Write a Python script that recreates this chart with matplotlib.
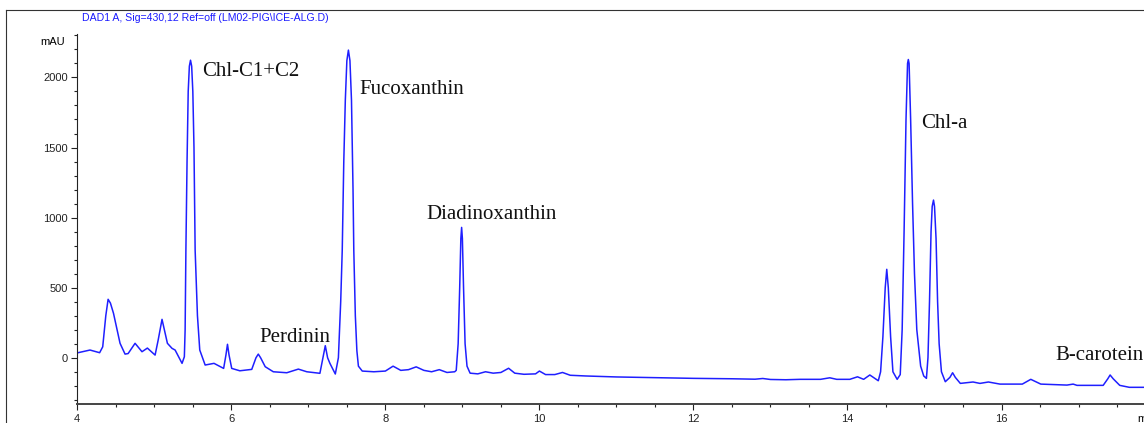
import numpy as np
import matplotlib.pyplot as plt
from matplotlib.ticker import MultipleLocator
from matplotlib.lines import Line2D

# chromatogram trace: retention time (min), signal (mAU)
time = [4.01, 4.165, 4.29, 4.33, 4.37, 4.40, 4.43, 4.47, 4.555, 4.62, 4.66, 4.75,
        4.84, 4.91, 5.01, 5.05, 5.10, 5.17, 5.23, 5.27, 5.36, 5.39,
        5.40, 5.41, 5.425, 5.44, 5.455, 5.47, 5.485, 5.50, 5.515, 5.53, 5.56, 5.59,
        5.66, 5.775, 5.90, 5.93, 5.95, 5.97, 6.005,
        6.11, 6.265, 6.32, 6.35, 6.38, 6.44, 6.545, 6.72, 6.87, 6.98, 7.15, 7.19,
        7.22, 7.25, 7.28, 7.35,
        7.39, 7.42, 7.44, 7.46, 7.48, 7.50, 7.52, 7.54, 7.56, 7.58, 7.59, 7.61,
        7.63, 7.65, 7.70, 7.85, 8.0, 8.1, 8.2, 8.3, 8.4, 8.5, 8.6, 8.7, 8.8, 8.9,
        8.92, 8.945, 8.965, 8.98, 8.99, 9.0, 9.015, 9.035, 9.06, 9.10, 9.2,
        9.3, 9.4, 9.5, 9.6, 9.68, 9.8, 9.95, 10.0, 10.08, 10.2, 10.3, 10.4, 10.6,
        11.0, 11.5, 12.0, 12.5, 12.8, 12.9, 13.0, 13.2, 13.385, 13.65, 13.77,
        13.86, 14.03, 14.13, 14.21, 14.29, 14.40,
        14.43, 14.46, 14.49, 14.51, 14.53, 14.56, 14.59, 14.645,
        14.685, 14.71, 14.735, 14.76, 14.78, 14.79, 14.80, 14.82, 14.845, 14.87,
        14.90, 14.95, 14.99, 15.025,
        15.045, 15.065, 15.085, 15.10, 15.117, 15.13, 15.15, 15.17, 15.19, 15.22,
        15.27, 15.33, 15.365, 15.40, 15.465, 15.63, 15.72, 15.83, 15.98,
        16.27, 16.38, 16.51, 16.85, 16.93, 16.98, 17.32, 17.38, 17.41, 17.45,
        17.535, 17.66, 17.84]
signal = [36, 55, 36, 78, 300, 417, 390, 317, 103, 26, 30, 103,
          43, 69, 19, 126, 274, 103, 67, 55, -40, 7,
          200, 767, 1400, 1900, 2080, 2123, 2080, 1900, 1500, 767, 300, 55,
          -52, -40, -76, 20, 96, 20, -76,
          -93, -83, 0, 26, 0, -64, -100, -107, -81, -100, -111, 0,
          86, 0, -40, -116,
          0, 400, 767, 1400, 1838, 2120, 2195, 2120, 1838, 1200, 767, 300,
          50, -60, -95, -100, -95, -60, -90, -85, -65, -90, -100, -85, -105, -100,
          -90, 100, 500, 850, 930, 850, 500, 100, -60, -110, -115,
          -100, -110, -105, -75, -110, -118, -115, -95, -120, -120, -105, -125, -130,
          -137, -142, -147, -150, -153, -148, -155, -157, -154, -154, -143,
          -154, -154, -136, -154, -123, -164,
          -100, 150, 500, 631, 500, 150, -100, -154,
          -120, 200, 900, 1700, 2100, 2128, 2100, 1700, 1100, 600,
          200, -60, -130, -147,
          0, 400, 900, 1080, 1125, 1080, 850, 400, 100, -100,
          -171, -140, -107, -140, -183, -173, -183, -173, -188,
          -188, -154, -188, -195, -188, -197, -197, -150, -123, -150,
          -197, -211, -211]

peak_names = ['Chl-C1+C2', 'Fucoxanthin', 'Diadinoxanthin', 'Perdinin', 'Chl-a', 'B-carotein']
label_pos = [(5.615, 2009), (7.662, 1881), (8.538, 987), (6.36, 114), (14.953, 1641), (16.697, -16)]

fig = plt.figure(figsize=(11.44, 4.23), dpi=100)
ax = fig.add_axes([77.3/1144, 1 - 404/423, 1 - 77.3/1144, (404 - 34)/423])

ax.plot(time, signal, color='#1f1fff', lw=1.1)

for name, (tx, ty) in zip(peak_names, label_pos):
    ax.text(tx, ty, name, fontsize=15, family='Liberation Serif', color='#111111',
            ha='left', va='baseline')

ax.set_xlim(4, 17.85)
ax.set_ylim(-330, 2310)
ax.spines['top'].set_visible(False)
ax.spines['right'].set_visible(False)
ax.spines['left'].set_color('#222222')
ax.spines['bottom'].set_color('#444444')
ax.spines['bottom'].set_linewidth(1.4)
ax.xaxis.set_major_locator(MultipleLocator(2))
ax.xaxis.set_minor_locator(MultipleLocator(0.5))
ax.yaxis.set_major_locator(MultipleLocator(500))
ax.yaxis.set_minor_locator(MultipleLocator(100))
ax.tick_params(which='major', length=4, width=0.8, labelsize=8, pad=3, colors='#222222')
ax.tick_params(which='minor', length=2.5, width=0.8, colors='#222222')
for lbl in ax.get_xticklabels() + ax.get_yticklabels():
    lbl.set_family('Liberation Sans')

fig.text(65/1144, 1 - 41.7/423, 'mAU', fontsize=8, family='Liberation Sans',
         ha='right', va='center')
fig.text(1137/1144, 1 - 419/423, 'min', fontsize=8, family='Liberation Sans',
         ha='left', va='center')
fig.text(81.7/1144, 1 - 18.3/423, r'DAD1 A, Sig=430,12 Ref=off (LM02-PIG\ICE-ALG.D)',
         fontsize=7.6, family='Liberation Sans', color='#1a1aff', ha='left', va='center')

# outer frame of the report page
fig.add_artist(Line2D([6/1144, 6/1144], [0, 1 - 10/423], transform=fig.transFigure,
                      color='#333333', lw=0.8))
fig.add_artist(Line2D([6/1144, 1], [1 - 10/423, 1 - 10/423], transform=fig.transFigure,
                      color='#333333', lw=0.8))

fig.savefig('out.png', dpi=100)
